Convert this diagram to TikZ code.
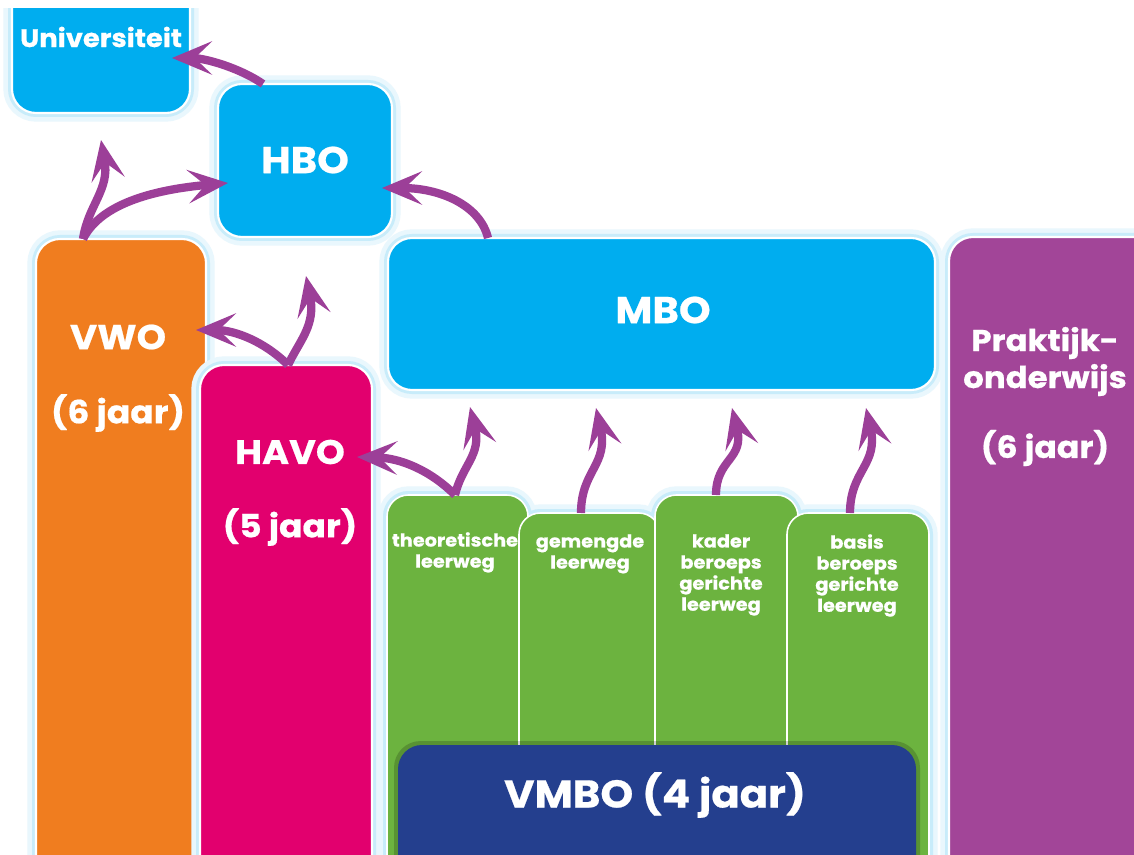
\documentclass[tikz,border=0pt]{standalone}
\usepackage{fontspec}
\setmainfont{Poppins}[BoldFeatures={FakeStretch=1.08,FakeBold=0.6}]
\usetikzlibrary{arrows.meta,fit}
\definecolor{cblue}{HTML}{00ADEF}
\definecolor{corange}{HTML}{F07D1F}
\definecolor{cpink}{HTML}{E2006E}
\definecolor{cpurple}{HTML}{A24598}
\definecolor{cgreen}{HTML}{6CB33F}
\definecolor{cnavy}{HTML}{243F8E}
\definecolor{carrow}{HTML}{9C3F98}
\definecolor{cglow}{HTML}{C8ECFA}
\tikzset{
  box/.style={draw=white, line width=1.6pt, rounded corners=18pt, inner sep=0pt,
    preaction={draw=cglow!40, line width=13pt},
    preaction={draw=cglow, line width=6pt}},
  gbox/.style={draw=white, line width=1.2pt, rounded corners=16pt, inner sep=0pt, fill=cgreen},
  gglow/.style={rounded corners=16pt, draw=cglow, line width=6pt},
  lbl/.style={text=white, font=\bfseries, inner sep=0pt},
  glbl/.style={text=white, font=\bfseries\fontsize{13.4}{15.8}\selectfont, align=center, inner sep=0pt, anchor=north},
  conn/.style={draw=carrow, line width=6.2pt,
    -{Stealth[length=30pt 0,width=25pt 0,inset=13pt 0]}}
}
\begin{document}
\begin{tikzpicture}[x=0.75pt,y=-0.75pt]
\useasboundingbox (0,0) rectangle (1134,855);
\fill[white] (0,0) rectangle (1134,855);
\clip (0,9) rectangle (1134,855);
% boxes
\node[box, fill=cblue, fit={(12,-40) (190,113)}] (uni) {};
\node[box, fill=cblue, fit={(218,84) (392,237)}] (hbo) {};
\node[box, fill=corange, fit={(36,239) (206,900)}] (vwo) {};
\node[box, fill=cpink, fit={(200,365) (372,900)}] (havo) {};
\node[box, fill=cblue, fit={(388,238) (935,390)}] (mbo) {};
\node[box, fill=cpurple, fit={(949,237) (1160,900)}] (prak) {};
% green glows
\draw[gglow, draw=cglow!40, line width=13pt] (387,495) rectangle (528,900);
\draw[gglow, draw=cglow!40, line width=13pt] (519,513) rectangle (660,900);
\draw[gglow, draw=cglow!40, line width=13pt] (655,495) rectangle (798,900);
\draw[gglow, draw=cglow!40, line width=13pt] (787,513) rectangle (929,900);
\draw[gglow] (387,495) rectangle (528,900);
\draw[gglow] (519,513) rectangle (660,900);
\draw[gglow] (655,495) rectangle (798,900);
\draw[gglow] (787,513) rectangle (929,900);
\node[gbox, fit={(387,495) (528,900)}] (theo) {};
\node[gbox, fit={(519,513) (660,900)}] (gem) {};
\node[gbox, fit={(655,495) (798,900)}] (kad) {};
\node[gbox, fit={(787,513) (929,900)}] (bas) {};
\fill[black, opacity=0.18, rounded corners=20pt] (394,741) rectangle (920,900);
\node[fill=cnavy, rounded corners=18pt, inner sep=0pt, fit={(398,745) (916,900)}] (vmbo) {};
% labels
\node[lbl, font=\bfseries\fontsize{19}{22}\selectfont] (tuni) at (101,37) {Universiteit};
\node[lbl, font=\bfseries\fontsize{28}{32}\selectfont] (thbo) at (305,160) {HBO};
\node[lbl, font=\bfseries\fontsize{28}{32}\selectfont] (tmbo) at (663,310) {MBO};
\node[lbl, font=\bfseries\fontsize{26}{30}\selectfont] (tvwo) at (118,337) {VWO};
\node[lbl, font=\bfseries\fontsize{24}{28}\selectfont] (tvwoj) at (118,413) {(6 jaar)};
\node[lbl, font=\bfseries\fontsize{25.5}{29}\selectfont] (thavo) at (290,452) {HAVO};
\node[lbl, font=\bfseries\fontsize{24}{28}\selectfont] (thavoj) at (290,527) {(5 jaar)};
\node[lbl, font=\bfseries\fontsize{22.5}{26}\selectfont] (tprak) at (1045,343) {Praktijk-};
\node[lbl, font=\bfseries\fontsize{22.5}{26}\selectfont] (tonder) at (1045,380) {onderwijs};
\node[lbl, font=\bfseries\fontsize{23}{26}\selectfont] (tprakj) at (1045,448) {(6 jaar)};
\node[lbl, font=\bfseries\fontsize{29}{33}\selectfont] (tvmbo) at (655,795) {VMBO (4 jaar)};
\node[glbl] (ttheo) at (455,532) {theoretische\\leerweg};
\node[glbl] (tgem) at (590,534) {gemengde\\leerweg};
\node[glbl] (tkad) at (721,534) {kader\\beroeps\\gerichte\\leerweg};
\node[glbl] (tbas) at (857,534) {basis\\beroeps\\gerichte\\leerweg};
% connector end points
\coordinate (s1) at (263,84);  \coordinate (e1) at (172,58);
\coordinate (s2) at (83,239);  \coordinate (e2) at (101,140);
\coordinate (e3) at (228,183);
\coordinate (s4) at (488,238); \coordinate (e4) at (382,188);
\coordinate (s5) at (288,365); \coordinate (e5) at (196,330);
\coordinate (e6) at (306,276);
\coordinate (s7) at (455,495); \coordinate (e7) at (357,457);
\coordinate (e8) at (470,407);
\coordinate (s9) at (581,513); \coordinate (e9) at (596,408);
\coordinate (s10) at (716,495); \coordinate (e10) at (732,408);
\coordinate (s11) at (850,513); \coordinate (e11) at (866,408);
% connectors
\draw[conn] (s1) .. controls (240,68) and (205,58) .. (e1);
\draw[conn] (s2) .. controls (88,205) and (110,190) .. (e2);
\draw[conn] (s2) .. controls (100,205) and (150,190) .. (e3);
\draw[conn] (s4) .. controls (480,205) and (440,188) .. (e4);
\draw[conn] (s5) .. controls (265,342) and (235,330) .. (e5);
\draw[conn] (s5) .. controls (300,340) and (316,325) .. (e6);
\draw[conn] (s7) .. controls (430,470) and (400,458) .. (e7);
\draw[conn] (s7) .. controls (462,465) and (482,455) .. (e8);
\draw[conn] (s9) .. controls (581,470) and (609,465) .. (e9);
\draw[conn] (s10) .. controls (716,458) and (745,460) .. (e10);
\draw[conn] (s11) .. controls (850,470) and (879,465) .. (e11);
\end{tikzpicture}
\end{document}
